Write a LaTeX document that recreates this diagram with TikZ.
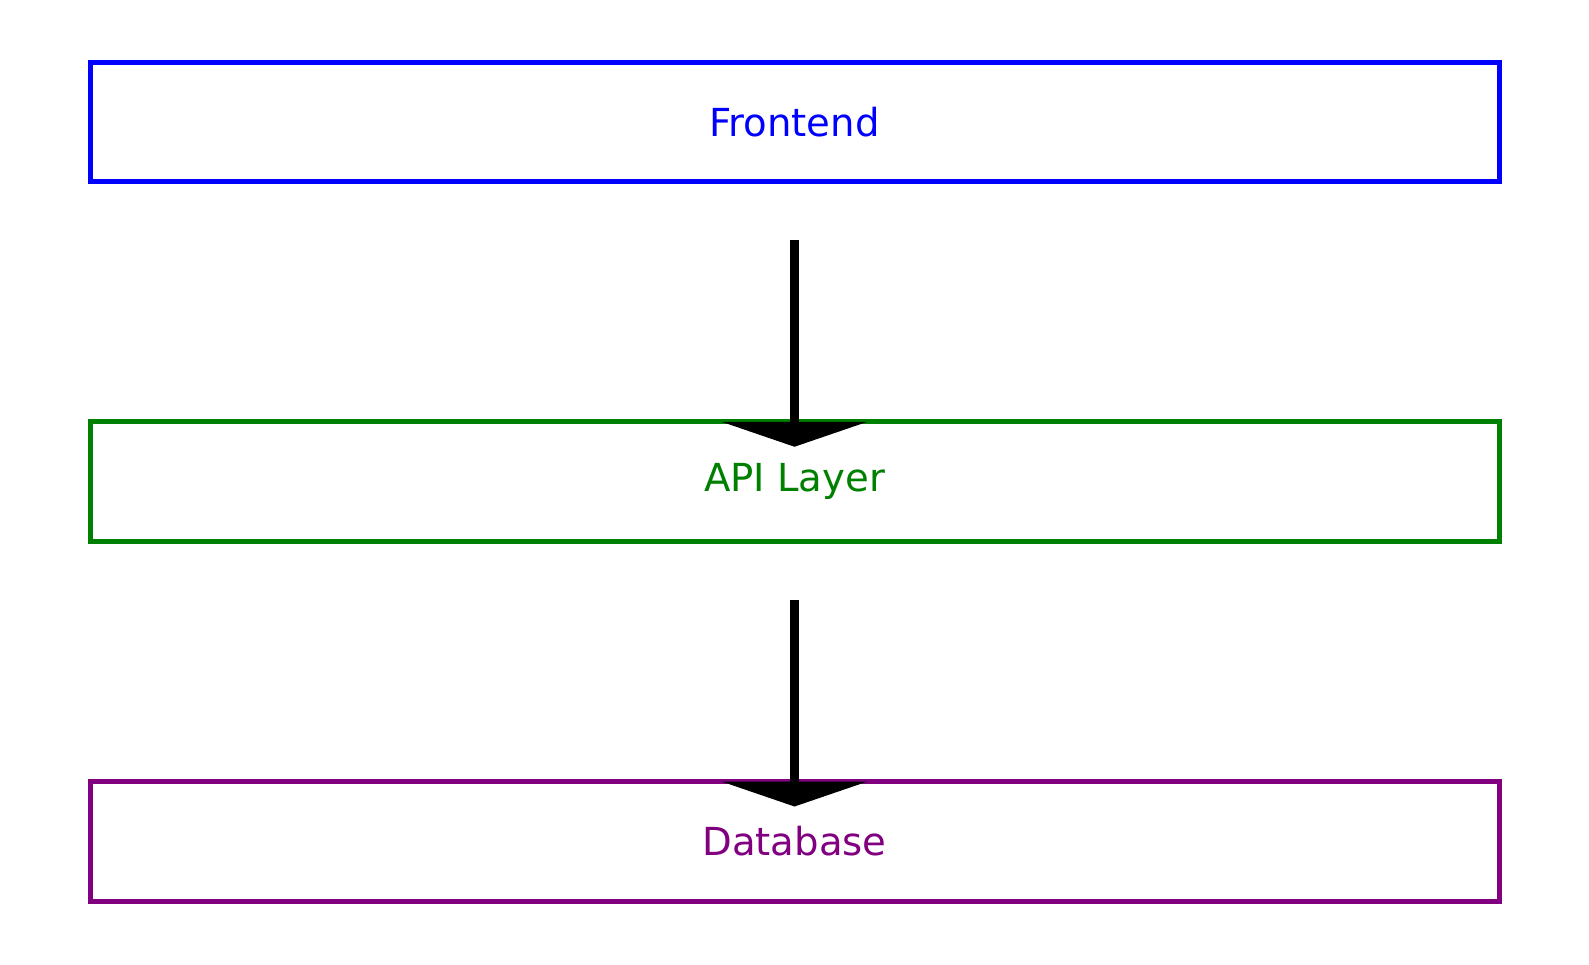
\documentclass[tikz,border=0pt]{standalone}
\usepackage{fontspec}
\setmainfont{DejaVu Sans}
\usepackage{xcolor}
\usepackage{tikz}
\usetikzlibrary{arrows.meta, positioning, calc}
\definecolor{apigreen}{RGB}{0,128,0}
\definecolor{dbpurple}{RGB}{128,0,128}

\begin{document}
\begin{tikzpicture}[x=0.5pt, y=-0.5pt,
    layerbox/.style={draw, line width=2.5pt, minimum width=704.5pt,
      minimum height=59.75pt, outer sep=0pt, font=\fontsize{19.3}{23}\selectfont},
    flow/.style={line width=4.5pt,
      -{Triangle[width=73pt, length=12.5pt, line width=0pt]}}]
    \useasboundingbox (0,0) rectangle (1589,964);

    \node[layerbox, blue, text=blue] (front) at (794.5,121.75) {Frontend};
    \node[layerbox, apigreen, text=apigreen] (api) at (794.5,481.5) {API Layer};
    \node[layerbox, dbpurple, text=dbpurple] (db) at (794.5,841.25) {Database};

    \draw[flow] ([yshift=-29.25pt]front.south) -- ([yshift=-12.5pt]api.north);
    \draw[flow] ([yshift=-29.25pt]api.south) -- ([yshift=-12.5pt]db.north);
  \end{tikzpicture}
\end{document}
